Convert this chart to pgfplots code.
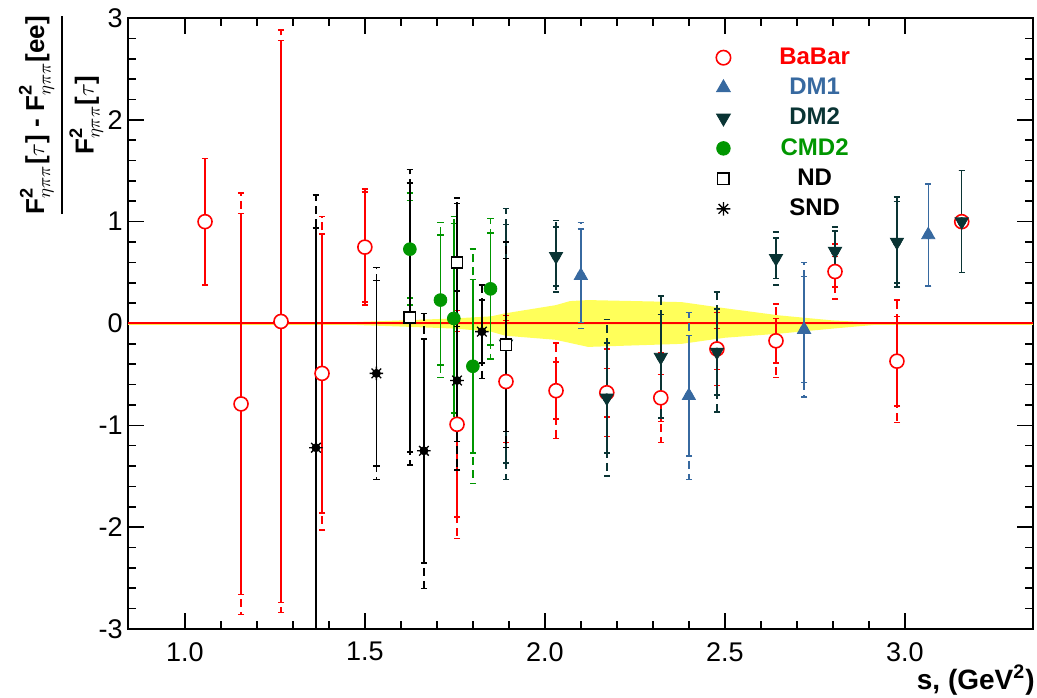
\documentclass[border=0pt]{standalone}
\usepackage{amsmath}
\usepackage{fontspec}
\setmainfont{Liberation Sans}
\usepackage{pgfplots}
\pgfplotsset{compat=1.18}
\usepackage{pgfplotstable}

\definecolor{babar}{RGB}{255,0,0}
\definecolor{dmone}{RGB}{55,105,160}
\definecolor{dmtwo}{RGB}{10,52,52}
\definecolor{cmd}{RGB}{0,150,0}
\definecolor{bandc}{RGB}{255,255,90}

\pgfdeclareplotmark{rootstar}{%
  \pgfpathmoveto{\pgfqpoint{-\pgfplotmarksize}{0pt}}\pgfpathlineto{\pgfqpoint{\pgfplotmarksize}{0pt}}%
  \pgfpathmoveto{\pgfqpoint{0pt}{-\pgfplotmarksize}}\pgfpathlineto{\pgfqpoint{0pt}{\pgfplotmarksize}}%
  \pgfpathmoveto{\pgfqpoint{-0.707\pgfplotmarksize}{-0.707\pgfplotmarksize}}\pgfpathlineto{\pgfqpoint{0.707\pgfplotmarksize}{0.707\pgfplotmarksize}}%
  \pgfpathmoveto{\pgfqpoint{-0.707\pgfplotmarksize}{0.707\pgfplotmarksize}}\pgfpathlineto{\pgfqpoint{0.707\pgfplotmarksize}{-0.707\pgfplotmarksize}}%
  \pgfusepathqstroke}

\pgfplotstableread{
x y ei eo
1.056 1.00 0.62 0.62
1.156 -0.79 1.87 2.07
1.267 0.02 2.76 2.86
1.381 -0.49 1.37 1.54
1.500 0.75 0.54 0.57
1.756 -0.99 0.91 1.12
1.892 -0.57 0.60 0.65
2.031 -0.66 0.28 0.47
2.172 -0.68 0.24 0.43
2.322 -0.73 0.23 0.44
2.478 -0.25 0.20 0.36
2.642 -0.17 0.22 0.36
2.806 0.51 0.15 0.27
2.978 -0.37 0.44 0.60
3.158 1.00 0.50 0.50
}\babar

\pgfplotstableread{
x y ei eo
2.100 0.47 0.46 0.52
2.400 -0.71 0.59 0.82
2.720 -0.06 0.52 0.66
3.065 0.87 0.50 0.50
}\dmone

\pgfplotstableread{
x y ei eo
1.892 -0.20 1.17 1.33
2.031 0.66 0.29 0.35
2.172 -0.73 0.54 0.77
2.322 -0.33 0.42 0.60
2.478 -0.28 0.42 0.59
2.642 0.64 0.20 0.26
2.806 0.71 0.20 0.24
2.978 0.80 0.40 0.44
3.158 1.00 0.50 0.50
}\dmtwo

\pgfplotstableread{
x y ei eo
1.625 0.73 0.48 0.55
1.710 0.23 0.64 0.76
1.747 0.05 0.93 1.00
1.800 -0.42 0.85 1.15
1.849 0.34 0.55 0.69
}\cmdtwo

\pgfplotstableread{
x y ei eo
1.625 0.06 1.32 1.45
1.756 0.60 0.58 0.63
1.892 -0.21 0.85 1.01
}\nd

\pgfplotstableread{
x y ei eo
1.364 -1.22 2.16 2.48
1.532 -0.49 0.91 1.04
1.664 -1.25 1.10 1.35
1.756 -0.56 0.60 0.88
1.825 -0.08 0.31 0.46
}\snd

\pgfplotsset{
  outerbars/.style={only marks, mark=none, forget plot,
    error bars/y dir=both, error bars/y explicit,
    error bars/error bar style={line width=0.75pt, dash pattern=on 4pt off 2.5pt},
    error bars/error mark options={solid, rotate=90, mark size=1.6pt, line width=0.75pt}},
  innerbars/.style={only marks, forget plot,
    error bars/y dir=both, error bars/y explicit,
    error bars/error bar style={line width=0.75pt, solid},
    error bars/error mark options={solid, rotate=90, mark size=1.6pt, line width=0.75pt}},
}

\begin{document}
\begin{tikzpicture}
\begin{axis}[
  scale only axis, width=452.5pt, height=305.5pt,
  xmin=0.842, xmax=3.356, ymin=-3, ymax=3,
  xtick={1,1.5,2,2.5,3}, minor x tick num=4,
  ytick={-3,-2,-1,0,1,2,3}, minor y tick num=4,
  tick align=inside, major tick length=8pt, minor tick length=4pt,
  axis line style={line width=1pt},
  every tick/.append style={line width=0.8pt, black},
  /pgf/number format/assume math mode=true,
  ticklabel style={font=\fontsize{13.5}{16}\selectfont},
  xticklabel style={inner sep=0pt, yshift=-6.5pt, /pgf/number format/fixed, /pgf/number format/fixed zerofill, /pgf/number format/precision=1},
  yticklabel style={inner sep=0pt, xshift=-2.5pt},
  xlabel={s, (GeV\textsuperscript{2})},
  every axis x label/.style={at={(axis description cs:1,0)}, anchor=east,
     yshift=-25.5pt, xshift=1pt, inner sep=0pt,
     font=\bfseries\fontsize{14}{16}\selectfont},
  ylabel={$\genfrac{}{}{1.1pt}{0}{\text{F}^{\text{2}}_{\eta\pi\pi}\text{[}\tau\text{] - F}^{\text{2}}_{\eta\pi\pi}\text{[ee]}}{\text{F}^{\text{2}}_{\eta\pi\pi}\text{[}\tau\text{]}}$},
  every axis y label/.style={at={(axis description cs:-0.074,0.841)}, rotate=90,
     anchor=center, inner sep=0pt, font=\bfseries\fontsize{13}{15}\selectfont},
  legend image code/.code={\draw[#1] plot coordinates {(0pt,0pt)};},
  legend style={at={(axis cs:2.475,2.71)}, anchor=north west, draw=none, fill=none,
     font=\bfseries\fontsize{12}{14}\selectfont, row sep=5.3pt, inner sep=0pt,
     nodes={inner sep=0pt},
     /tikz/every odd column/.append style={column sep=20pt}},
]
% band
\addplot[fill=bandc, draw=none, forget plot] coordinates {
 (1.36,0) (1.6,0.03) (1.75,0.05) (1.85,0.07) (1.89,0.10) (2.03,0.18) (2.07,0.22)
 (2.12,0.23) (2.38,0.21) (2.5,0.15) (2.65,0.08) (2.8,0.03) (2.96,0)
 (2.8,-0.05) (2.65,-0.1) (2.5,-0.14) (2.38,-0.2) (2.12,-0.23) (2.03,-0.16)
 (1.89,-0.12) (1.85,-0.08) (1.75,-0.05) (1.6,-0.03) (1.36,0)} -- cycle;
\addplot[bandc!85!orange, line width=1.4pt, forget plot] coordinates {(0.842,0) (3.356,0)};
\addplot[red, line width=1pt, forget plot] coordinates {(0.842,0) (3.356,0)};

% BaBar
\addplot[babar, outerbars] table[x=x, y=y, y error=eo] {\babar};
\addplot[babar, innerbars, mark=*, mark size=3.5pt, mark options={solid, fill=white, line width=0.8pt}] table[x=x, y=y, y error=ei] {\babar};
% DM1
\addplot[dmone, outerbars] table[x=x, y=y, y error=eo] {\dmone};
\addplot[dmone, innerbars, mark=triangle*, mark size=3.8pt, mark options={solid, fill=dmone}] table[x=x, y=y, y error=ei] {\dmone};
% DM2
\addplot[dmtwo, outerbars] table[x=x, y=y, y error=eo] {\dmtwo};
\addplot[dmtwo, innerbars, mark=triangle*, mark size=3.8pt, mark options={solid, fill=dmtwo, rotate=180}] table[x=x, y=y, y error=ei] {\dmtwo};
% CMD2
\addplot[cmd, outerbars] table[x=x, y=y, y error=eo] {\cmdtwo};
\addplot[cmd, innerbars, mark=*, mark size=3.2pt, mark options={solid, fill=cmd}] table[x=x, y=y, y error=ei] {\cmdtwo};
% ND
\addplot[black, outerbars] table[x=x, y=y, y error=eo] {\nd};
\addplot[black, innerbars, mark=square*, mark size=2.8pt, mark options={solid, fill=white, line width=0.8pt}] table[x=x, y=y, y error=ei] {\nd};
% SND
\addplot[black, outerbars] table[x=x, y=y, y error=eo] {\snd};
\addplot[black, innerbars, mark=rootstar, mark size=3.4pt, mark options={solid, line width=0.65pt}] table[x=x, y=y, y error=ei] {\snd};

% legend
\addlegendimage{only marks, mark=*, babar, mark size=3.6pt, mark options={fill=white, line width=0.8pt}}
\addlegendentry{\makebox[44pt][c]{\textcolor{babar}{BaBar}}}
\addlegendimage{only marks, mark=triangle*, dmone, mark size=4pt}
\addlegendentry{\makebox[44pt][c]{\textcolor{dmone}{DM1}}}
\addlegendimage{only marks, mark=triangle*, dmtwo, mark size=4pt, mark options={rotate=180}}
\addlegendentry{\makebox[44pt][c]{\textcolor{dmtwo}{DM2}}}
\addlegendimage{only marks, mark=*, cmd, mark size=3.4pt}
\addlegendentry{\makebox[44pt][c]{\textcolor{cmd}{CMD2}}}
\addlegendimage{only marks, mark=square*, black, mark size=2.9pt, mark options={fill=white, line width=0.8pt}}
\addlegendentry{\makebox[44pt][c]{ND}}
\addlegendimage{only marks, mark=rootstar, black, mark size=3.4pt, mark options={line width=0.65pt}}
\addlegendentry{\makebox[44pt][c]{SND}}
\end{axis}
\pgfresetboundingbox
\path ([xshift=-64pt,yshift=-34.5pt]current axis.south west) rectangle ([xshift=2pt,yshift=9pt]current axis.north east);
\end{tikzpicture}
\end{document}
